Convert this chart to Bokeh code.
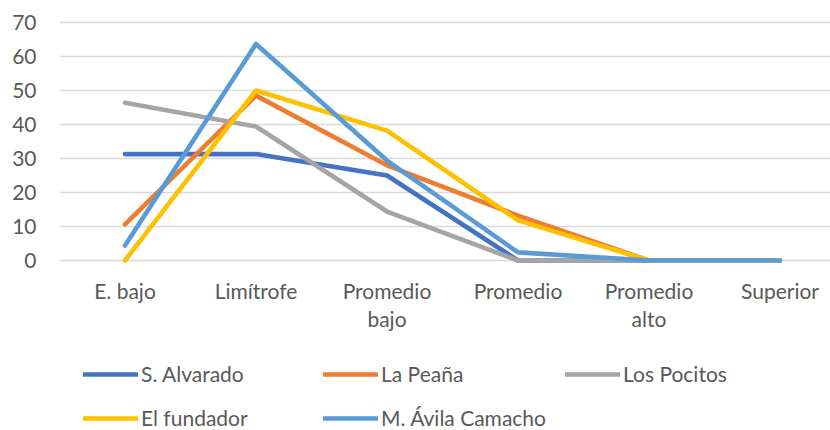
from bokeh.plotting import figure
from bokeh.models import Legend, LegendItem, FixedTicker, Range1d
from bokeh.layouts import column
from bokeh.embed import file_html
from bokeh.resources import INLINE

categories = ["E. bajo", "Limítrofe", "Promedio\nbajo", "Promedio", "Promedio\nalto", "Superior"]
y_ticks = [0, 10, 20, 30, 40, 50, 60, 70]

s_alvarado = [31.3, 31.3, 25.0, 0, 0, 0]
la_peana = [10.6, 48.5, 28.0, 13.2, 0, 0]
los_pocitos = [46.4, 39.4, 14.4, 0, 0, 0]
el_fundador = [0, 50.0, 38.2, 11.8, 0, 0]
m_avila = [4.4, 63.7, 29.4, 2.4, 0, 0]

series = [
    ("S. Alvarado", s_alvarado, "#4472C4"),
    ("La Peaña", la_peana, "#ED7D31"),
    ("Los Pocitos", los_pocitos, "#A5A5A5"),
    ("El fundador", el_fundador, "#FFC000"),
    ("M. Ávila Camacho", m_avila, "#5B9BD5"),
]

FONT = "Lato"
TXT = "#595959"
LW = 4.6

x = list(range(len(categories)))

p = figure(width=830, height=350, output_backend="svg", toolbar_location=None,
           x_range=Range1d(-0.5, -0.5 + 771 / 131), y_range=Range1d(-10 / 3.4, 70 + 10 / 3.4),
           min_border_left=59, min_border_right=0, min_border_top=12, min_border_bottom=80)
p.outline_line_color = None
p.background_fill_color = "white"
p.border_fill_color = "white"

for name, vals, col in series:
    p.line(x, vals, line_color=col, line_width=LW, line_cap="round", line_join="round")

p.xgrid.grid_line_color = None
p.ygrid.grid_line_color = "#D9D9D9"
p.ygrid.grid_line_width = 1.3

p.yaxis.ticker = FixedTicker(ticks=y_ticks)
p.xaxis.ticker = FixedTicker(ticks=x)
p.xaxis.major_label_overrides = {i: c for i, c in enumerate(categories)}

for ax in (p.xaxis[0], p.yaxis[0]):
    ax.axis_line_color = None
    ax.major_tick_line_color = None
    ax.minor_tick_line_color = None
    ax.major_tick_out = 0
    ax.major_tick_in = 0
    ax.major_label_text_font = FONT
    ax.major_label_text_font_size = "21px"
    ax.major_label_text_color = TXT

p.yaxis.major_label_standoff = 23
p.xaxis.major_label_standoff = 7
p.xaxis.major_label_text_line_height = 1.15

# legend panel
q = figure(width=830, height=80, output_backend="svg", toolbar_location=None,
           x_range=Range1d(0, 1), y_range=Range1d(0, 1), x_axis_type=None, y_axis_type=None,
           min_border_left=0, min_border_right=0, min_border_top=0, min_border_bottom=0)
q.outline_line_color = None
q.grid.visible = False
q.background_fill_color = "white"
q.border_fill_color = "white"

nan = float("nan")
items = []
for name, vals, col in series:
    r = q.line([nan], [nan], line_color=col, line_width=LW, line_cap="round", line_join="round")
    items.append(LegendItem(label=name, renderers=[r]))

leg = Legend(items=items, orientation="horizontal", ncols=3, location=(24, 0),
             glyph_width=55, glyph_height=20, label_standoff=3,
             label_width=163, spacing=19, padding=0, margin=0,
             border_line_color=None, background_fill_alpha=0,
             label_text_font=FONT, label_text_font_size="21px",
             label_text_color=TXT)
q.add_layout(leg, "center")

layout = column(p, q, spacing=0)
open("out.html", "w").write(file_html(layout, INLINE))
